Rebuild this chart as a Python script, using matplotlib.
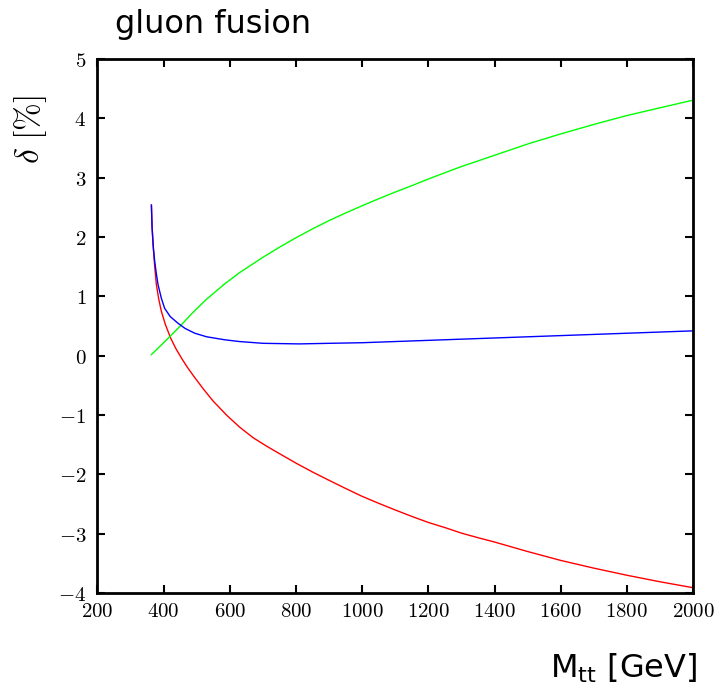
import matplotlib
matplotlib.use('Agg')
import matplotlib.pyplot as plt
from matplotlib.ticker import FuncFormatter

# values (M_tt in GeV, delta in %)
red_m = [363, 365, 368, 373, 378, 385, 393, 405, 421, 437, 454, 470, 489,
         520, 549, 590, 629, 670, 710, 750, 800, 850, 900, 951, 1000, 1051,
         1100, 1151, 1200, 1252, 1300, 1352, 1400, 1500, 1600, 1700, 1800,
         1900, 2000]
red_d = [2.54, 2.20, 1.87, 1.50, 1.20, 0.96, 0.75, 0.53, 0.30, 0.12, -0.04,
         -0.18, -0.33, -0.56, -0.76, -1.00, -1.20, -1.38, -1.52, -1.65,
         -1.81, -1.96, -2.10, -2.24, -2.37, -2.49, -2.60, -2.71, -2.81,
         -2.90, -2.99, -3.07, -3.14, -3.30, -3.45, -3.58, -3.70, -3.81,
         -3.91]

green_m = [363, 400, 443, 485, 529, 584, 629, 700, 750, 800, 850, 900, 951,
           1000, 1051, 1100, 1151, 1200, 1252, 1300, 1400, 1500, 1600, 1700,
           1800, 1900, 2000]
green_d = [0.02, 0.22, 0.46, 0.71, 0.95, 1.21, 1.40, 1.66, 1.83, 1.99, 2.14,
           2.28, 2.41, 2.53, 2.65, 2.76, 2.87, 2.98, 3.09, 3.19, 3.38, 3.57,
           3.74, 3.90, 4.05, 4.18, 4.31]

blue_m = [363, 365, 369, 373, 378, 383, 393, 403, 420, 443, 465, 494, 530,
          584, 629, 700, 810, 900, 1000, 1200, 1400, 1600, 1800, 2000]
blue_d = [2.54, 2.15, 1.82, 1.59, 1.38, 1.20, 0.97, 0.80, 0.66, 0.55, 0.46,
          0.38, 0.32, 0.27, 0.24, 0.21, 0.20, 0.21, 0.22, 0.26, 0.30, 0.34,
          0.38, 0.42]

xticks = [200, 400, 600, 800, 1000, 1200, 1400, 1600, 1800, 2000]
yticks = [-4, -3, -2, -1, 0, 1, 2, 3, 4, 5]

fig = plt.figure(figsize=(7.22, 6.88), dpi=100)
ax = fig.add_axes([0.135, 0.138, 0.825, 0.776])

ax.plot(red_m, red_d, color='#ff0000', lw=1.0)
ax.plot(green_m, green_d, color='#00ff00', lw=1.0)
ax.plot(blue_m, blue_d, color='#0000ff', lw=1.0)

ax.set_xlim(200, 2000)
ax.set_ylim(-4, 5)
ax.set_xticks(xticks)
ax.set_yticks(yticks)

fmt = FuncFormatter(lambda v, p: r'$%d$' % v)
ax.xaxis.set_major_formatter(fmt)
ax.yaxis.set_major_formatter(fmt)
for lab in ax.get_xticklabels() + ax.get_yticklabels():
    lab.set_math_fontfamily('cm')
    lab.set_fontsize(15)

ax.tick_params(direction='in', length=6, width=1.5, top=True, right=True,
               labeltop=False, labelright=False)
ax.tick_params(axis='x', pad=6)
ax.tick_params(axis='y', pad=8)
for s in ax.spines.values():
    s.set_linewidth(2)

fig.text(0.159, 0.952, 'gluon fusion', fontsize=23, va='baseline')
fig.text(0.042, 0.811, r'$\delta\ [\%]$', fontsize=24, rotation=90,
         ha='center', va='center', math_fontfamily='cm')
fig.text(0.965, 0.0145, r'M$_{\rm tt}$ [GeV]', fontsize=23, ha='right',
         va='baseline', math_fontfamily='dejavusans')

fig.savefig('out.png', dpi=100)
